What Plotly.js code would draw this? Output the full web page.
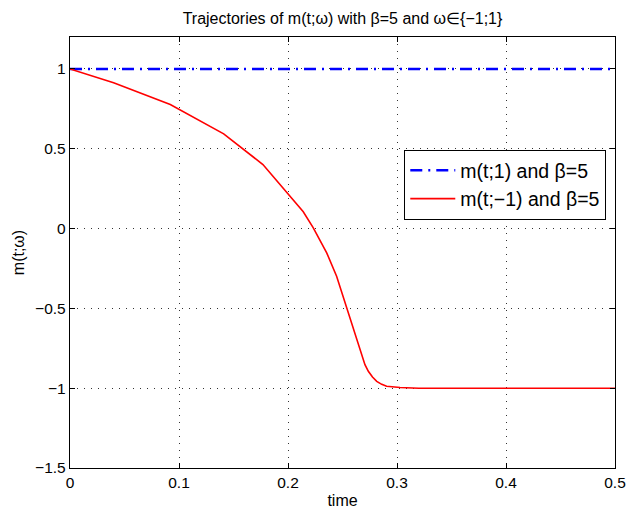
<!DOCTYPE html>
<html>
<head>
<meta charset="utf-8">
<script src="https://cdn.plot.ly/plotly-3.0.1.min.js"></script>
<style>html,body{margin:0;padding:0;background:#fff;}#chart{width:626px;height:511px;}</style>
</head>
<body>
<div id="chart"></div>
<script>
// Data
const tPlus = [0, 0.1, 0.2, 0.3, 0.4, 0.5];
const mPlus = [1, 1, 1, 1, 1, 1];

const tMinus = [0, 0.04, 0.092, 0.141, 0.177, 0.214, 0.2232, 0.2355, 0.2446, 0.2523, 0.26, 0.2676, 0.2706, 0.2737, 0.2775, 0.2814, 0.286, 0.2905, 0.3028, 0.32, 0.4, 0.5];
const mMinus = [1, 0.913, 0.777, 0.593, 0.401, 0.105, 0.004, -0.152, -0.299, -0.466, -0.633, -0.80, -0.853, -0.894, -0.930, -0.957, -0.976, -0.988, -0.996, -1, -1, -1];

const xTicks = [0, 0.1, 0.2, 0.3, 0.4, 0.5];
const xTickText = ['0', '0.1', '0.2', '0.3', '0.4', '0.5'];
const yTicks = [-1.5, -1, -0.5, 0, 0.5, 1];
const yTickText = ['\u22121.5', '\u22121', '\u22120.5', '0', '0.5', '1'];

const FONT = 'Liberation Sans, Arial, Helvetica, sans-serif';

const traces = [
  {
    x: tPlus, y: mPlus, mode: 'lines', name: 'm(t;1) and \u03b2=5',
    line: {color: '#0000ff', width: 2.6, dash: '12px,6px,2px,6px'}
  },
  {
    x: tMinus, y: mMinus, mode: 'lines', name: 'm(t;\u22121) and \u03b2=5',
    line: {color: '#ff0000', width: 1.6, shape: 'linear'}
  }
];

const axisCommon = {
  showline: true, linecolor: '#000', linewidth: 1.2, mirror: 'allticks',
  ticks: 'inside', ticklen: 5, tickcolor: '#000', tickwidth: 1,
  showgrid: true, gridcolor: '#333', griddash: '1px,6px', gridwidth: 1,
  zeroline: false, tickfont: {family: FONT, size: 15.5, color: '#000'}
};

const layout = {
  width: 626, height: 511,
  margin: {l: 70, r: 11, t: 37, b: 43},
  paper_bgcolor: '#fff', plot_bgcolor: '#fff',
  font: {family: FONT, color: '#000'},
  title: {
    text: 'Trajectories of m(t;\u03c9) with \u03b2=5 and \u03c9\u2208{\u22121;1}',
    font: {family: FONT, size: 16, color: '#000'},
    xref: 'paper', x: 0.5, xanchor: 'center', y: 1 - 18 / 511, yanchor: 'middle'
  },
  xaxis: Object.assign({}, axisCommon, {
    range: [0, 0.5], tickvals: xTicks, ticktext: xTickText,
    title: {text: 'time', font: {family: FONT, size: 16, color: '#000'}, standoff: 5}
  }),
  yaxis: Object.assign({}, axisCommon, {
    range: [-1.5, 1.2], tickvals: yTicks, ticktext: yTickText,
    title: {text: 'm(t;\u03c9)', font: {family: FONT, size: 16, color: '#000'}, standoff: 6}
  }),
  showlegend: true,
  legend: {
    x: 0.613, y: 0.738, xanchor: 'left', yanchor: 'top',
    bgcolor: '#fff', bordercolor: '#000', borderwidth: 1.2,
    font: {family: FONT, size: 19.5, color: '#000'},
    itemwidth: 45, tracegroupgap: 0
  }
};

Plotly.newPlot('chart', traces, layout, {displayModeBar: false, staticPlot: true});
</script>
</body>
</html>
